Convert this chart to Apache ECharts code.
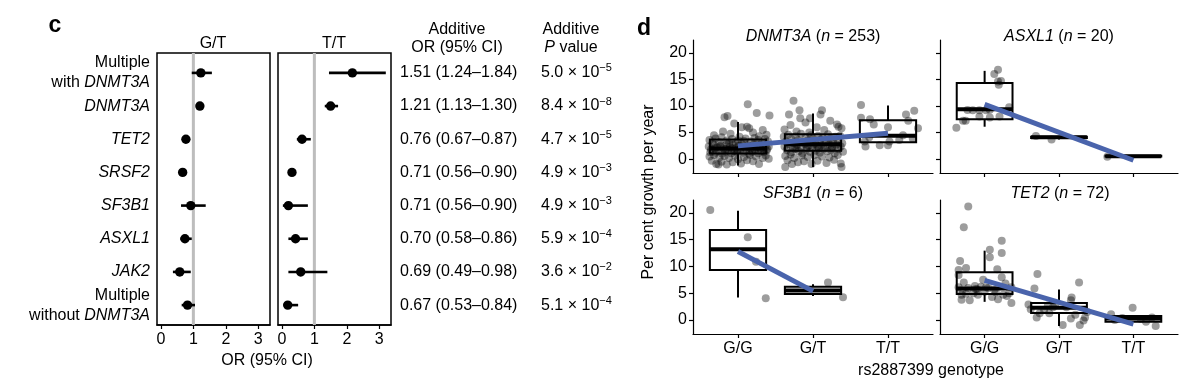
<!DOCTYPE html>
<html><head><meta charset="utf-8">
<script src="https://cdn.jsdelivr.net/npm/echarts@6/dist/echarts.min.js"></script>
<style>html,body{margin:0;padding:0;background:#fff}#c{width:1200px;height:384px}</style>
</head><body><div id="c"></div>
<script>
// ---------------- Panel c data ----------------
const rowLabels = ['Multiple with DNMT3A', 'DNMT3A', 'TET2', 'SRSF2', 'SF3B1', 'ASXL1', 'JAK2', 'Multiple without DNMT3A'];
const gtEst  = [1.23, 1.20, 0.77, 0.67, 0.92, 0.74, 0.58, 0.82];
const gtLow  = [0.95, 1.12, 0.70, 0.60, 0.62, 0.60, 0.37, 0.64];
const gtHigh = [1.57, 1.28, 0.84, 0.74, 1.38, 0.95, 0.92, 1.05];
const ttEst  = [2.17, 1.50, 0.62, 0.31, 0.20, 0.42, 0.58, 0.18];
const ttLow  = [1.45, 1.32, 0.46, 0.26, 0.03, 0.20, 0.20, 0.05];
const ttHigh = [3.20, 1.73, 0.89, 0.36, 0.80, 0.80, 1.40, 0.50];
const orLabels = ['1.51 (1.24\u20131.84)', '1.21 (1.13\u20131.30)', '0.76 (0.67\u20130.87)', '0.71 (0.56\u20130.90)',
                  '0.71 (0.56\u20130.90)', '0.70 (0.58\u20130.86)', '0.69 (0.49\u20130.98)', '0.67 (0.53\u20130.84)'];
const pMantissa = ['5.0', '8.4', '4.7', '4.9', '4.9', '5.9', '3.6', '5.1'];
const pExponent = ['\u22125', '\u22128', '\u22125', '\u22123', '\u22123', '\u22124', '\u22122', '\u22124'];
const orTicks = [0, 1, 2, 3];
const orReference = 1;
const forestPanels = ['G/T', 'T/T'];

// ---------------- Panel d data ----------------
const genotypes = ['G/G', 'G/T', 'T/T'];
const growthTicks = [0, 5, 10, 15, 20];
const geneNames = ['DNMT3A', 'ASXL1', 'SF3B1', 'TET2'];
const geneN = [253, 20, 6, 72];

// box stats: [genotype position, lower whisker, q1, median, q3, upper whisker]
const dnmt3aBox = [[1, -1.2, 1.07, 2.0, 3.7, 7.0], [2, -1.45, 1.6, 2.8, 4.7, 8.6], [3, 3.2, 3.2, 4.4, 7.3, 10.1]];
const asxl1Box  = [[1, 6.1, 7.5, 9.4, 14.3, 16.6], [2, 3.7, 4.0, 4.1, 4.2, 4.35], [3, 0.45, 0.5, 0.55, 0.65, 0.7]];
const sf3b1Box  = [[1, 4.2, 9.35, 13.2, 16.8, 20.4], [2, 4.5, 4.85, 5.5, 6.2, 6.7]];
const tet2Box   = [[1, 3.4, 4.85, 5.9, 8.9, 12.95], [2, -1.1, 1.3, 2.3, 3.2, 5.7], [3, -0.3, -0.3, 0.3, 0.75, 0.75]];

// linear fits: [genotype position, growth]
const dnmt3aFit = [[1, 2.5], [3, 4.85]];
const asxl1Fit  = [[1, 10.3], [3, -0.2]];
const sf3b1Fit  = [[1, 12.8], [2, 5.4]];
const tet2Fit   = [[1, 7.4], [3, -0.75]];

// jittered observations: [jittered genotype position, growth]
const dnmt3aPoints = [
 [1.13,10.3],[1.25,8.7],[1.42,8.2],[0.82,7.9],[0.86,8.1],[0.95,6.7],[1.12,6.1],[1.15,5.8],[1.33,5.5],[0.80,5.2],[1.05,6.0],[1.20,5.0],[0.68,4.5],[1.38,4.6],[0.90,4.8],[1.28,4.3],
 [0.62,3.6],[0.70,3.9],[0.75,3.2],[0.78,4.1],[0.85,3.5],[0.92,3.8],[0.97,3.1],[1.02,4.2],[1.08,3.4],[1.10,3.9],[1.17,3.3],[1.22,4.0],[1.27,3.6],[1.31,3.0],[1.36,3.8],[1.40,3.3],[0.66,3.0],[0.88,3.0],[1.00,3.5],
 [0.61,2.4],[0.64,1.8],[0.67,2.8],[0.70,1.2],[0.72,2.2],[0.74,1.6],[0.77,2.6],[0.79,1.0],[0.81,2.0],[0.83,1.4],[0.85,2.9],[0.87,1.7],[0.89,2.3],[0.91,1.1],[0.93,2.7],[0.95,1.5],[0.97,2.1],[0.99,1.3],[1.01,2.5],[1.03,1.8],[1.05,2.9],[1.07,1.2],[1.09,2.2],[1.11,1.6],[1.13,2.6],[1.15,1.0],[1.17,2.0],[1.19,1.4],[1.21,2.8],[1.23,1.7],[1.25,2.3],[1.27,1.1],[1.29,2.7],[1.31,1.5],[1.33,2.1],[1.35,1.3],[1.37,2.5],[1.39,1.9],[1.41,2.4],[0.63,1.3],[0.69,2.0],[0.76,2.4],[0.84,1.9],[0.92,2.0],[1.00,1.7],[1.06,2.4],[1.14,2.2],[1.22,1.9],[1.30,2.0],[1.38,1.6],
 [0.62,0.5],[0.65,-0.3],[0.68,0.8],[0.71,-0.9],[0.75,0.3],[0.78,-0.5],[0.82,0.6],[0.85,-1.0],[0.88,0.2],[0.93,-0.6],[0.96,0.7],[1.00,0.0],[1.04,-0.8],[1.08,0.4],[1.12,-0.2],[1.16,0.8],[1.20,-0.4],[1.24,0.5],[1.28,-0.9],[1.33,0.2],[1.37,0.7],[1.41,0.1],[0.74,-1.0],
 [1.74,11.0],[1.82,9.2],[2.12,9.2],[2.10,8.4],[1.68,8.4],[1.83,7.7],[1.96,7.7],[2.23,7.2],[2.32,6.5],[2.34,6.1],[1.70,6.4],[1.90,6.9],[2.05,6.0],[1.62,5.6],[1.78,5.2],[2.15,5.5],[2.38,5.8],[1.95,5.0],
 [1.61,4.2],[1.64,3.3],[1.67,4.6],[1.71,3.8],[1.74,3.1],[1.77,4.3],[1.80,3.6],[1.84,4.8],[1.87,3.2],[1.90,4.1],[1.93,3.5],[1.97,4.5],[2.00,3.9],[2.03,3.0],[2.07,4.4],[2.10,3.7],[2.13,4.0],[2.17,3.3],[2.20,4.7],[2.23,3.8],[2.27,3.1],[2.30,4.2],[2.33,3.5],[2.36,4.4],[2.39,3.0],
 [1.62,2.4],[1.65,1.7],[1.68,2.8],[1.71,1.3],[1.73,2.2],[1.76,1.9],[1.79,2.7],[1.81,1.5],[1.84,2.3],[1.86,1.1],[1.89,2.9],[1.91,1.8],[1.94,2.5],[1.96,1.4],[1.99,2.1],[2.01,2.8],[2.04,1.6],[2.06,2.4],[2.09,1.2],[2.11,2.6],[2.14,1.9],[2.16,2.2],[2.19,1.5],[2.21,2.9],[2.24,1.7],[2.26,2.3],[2.29,1.1],[2.31,2.7],[2.34,1.9],[2.37,2.4],[2.40,1.4],[1.78,2.0],[1.92,2.2],[2.08,2.0],[2.25,2.1],
 [1.63,0.6],[1.66,-0.2],[1.70,0.9],[1.75,0.2],[1.80,-0.6],[1.85,0.7],[1.88,-0.4],[1.93,0.4],[1.98,-0.9],[2.02,0.8],[2.06,-0.3],[2.12,0.5],[2.18,-0.7],[2.22,0.3],[2.28,-0.1],[2.33,0.8],[2.37,-0.8],[1.63,-1.45],[2.38,-1.45],[1.72,-0.9],
 [2.64,10.2],[2.64,7.8],[2.76,7.5],[2.81,6.5],[3.00,6.0],[3.24,8.4],[3.35,9.1],[3.27,7.2],[3.40,5.8],[2.69,3.3],[2.70,2.4],[2.89,2.6],[3.00,2.6],[3.02,3.3],[3.33,3.9],[2.75,4.1],[3.15,3.6],[3.20,4.5]
];
const asxl1Points = [
 [0.62,5.9],[0.71,7.2],[0.745,7.2],[0.77,9.25],[0.93,8.0],[0.93,9.2],[1.07,7.85],[1.07,9.3],[1.13,16.0],[1.18,16.8],[1.18,14.6],[1.19,14.0],[1.22,14.7],[1.20,8.0],[1.33,9.75],[1.02,9.2],[0.84,9.2],
 [1.69,4.35],[1.90,3.7],
 [2.65,0.45]
];
const sf3b1Points = [
 [0.63,20.55],[1.13,15.45],[1.24,10.9],[1.37,4.05],
 [2.20,7.0],[2.40,4.25]
];
const tet2Points = [
 [0.78,21.2],[0.72,17.3],[1.23,14.8],[1.23,12.5],[1.07,13.1],[1.07,11.7],[0.67,11.0],[1.17,9.5],[0.75,9.7],[0.65,9.35],[0.65,8.4],[1.23,8.0],[0.72,7.0],[0.65,6.1],[0.87,6.35],[0.90,5.7],[1.36,6.1],[1.00,5.3],[1.13,5.6],[0.69,4.7],[0.80,3.7],[0.69,3.8],[0.91,4.7],[1.18,3.9],[1.25,4.7],[1.36,3.2],[0.70,5.5],[0.78,6.0],[0.95,6.2],[1.05,6.0],[1.15,5.2],[1.30,4.5],[0.85,5.0],[1.10,4.3],[0.75,4.9],[1.33,5.0],[0.98,7.5],[1.28,6.8],[1.02,6.1],[0.88,5.8],
 [1.71,8.6],[2.27,7.0],[1.67,5.9],[1.59,2.9],[1.74,1.25],[1.87,1.25],[2.05,-0.9],[2.16,0.3],[2.33,-0.1],[2.35,0.5],[2.16,3.7],[2.17,4.2],[2.10,2.4],[1.92,2.4],[1.80,1.9],[1.62,2.0],[2.22,1.0],[1.95,3.0],[2.38,1.5],[1.70,0.5],[2.28,-0.9],[1.85,2.7],
 [2.70,1.1],[2.99,2.3],[3.17,-0.3],[3.30,-1.1],[2.85,0.4],[3.10,0.2],[3.25,0.5],[2.75,0.0]
];

// ---------------- Rendering ----------------
const FONT = '"Liberation Sans", Arial, Helvetica, sans-serif';
const BLACK = '#000';
const rowIdx = rowLabels.map((_, i) => i);

function rowRich(v) {
  const s = rowLabels[Math.round(v)];
  if (!s) return '';
  const m = s.match(/^Multiple (with|without) (.+)$/);
  if (m) return '{n|Multiple}\n{n|' + m[1] + ' }{i|' + m[2] + '}';
  return '{i|' + s + '}';
}

function forestRender(params, api) {
  const row = api.value(0);
  const c = api.coord([api.value(1), row]);
  const l = api.coord([api.value(2), row]);
  const h = api.coord([api.value(3), row]);
  return {type: 'group', children: [
    {type: 'line', shape: {x1: l[0], y1: l[1], x2: h[0], y2: h[1]}, style: {stroke: BLACK, lineWidth: 2.6}},
    {type: 'circle', shape: {cx: c[0], cy: c[1], r: 4.7}, style: {fill: BLACK}}
  ]};
}

const BOX_HALF = 0.375;
function boxRender(params, api) {
  const x = api.value(0);
  const lo = api.value(1), q1 = api.value(2), md = api.value(3), q3 = api.value(4), hi = api.value(5);
  const tl = api.coord([x - BOX_HALF, q3]), br = api.coord([x + BOX_HALF, q1]);
  const mL = api.coord([x - BOX_HALF, md]), mR = api.coord([x + BOX_HALF, md]);
  const wT = api.coord([x, hi]), w3 = api.coord([x, q3]), w1 = api.coord([x, q1]), wB = api.coord([x, lo]);
  const st = {stroke: BLACK, lineWidth: 2};
  return {type: 'group', children: [
    {type: 'line', shape: {x1: wT[0], y1: wT[1], x2: w3[0], y2: w3[1]}, style: st},
    {type: 'line', shape: {x1: w1[0], y1: w1[1], x2: wB[0], y2: wB[1]}, style: st},
    {type: 'rect', shape: {x: tl[0], y: tl[1], width: br[0] - tl[0], height: br[1] - tl[1]}, style: {fill: '#fff', stroke: BLACK, lineWidth: 2}},
    {type: 'line', shape: {x1: mL[0], y1: mL[1], x2: mR[0], y2: mR[1]}, style: {stroke: BLACK, lineWidth: 4}}
  ]};
}

const grids = [
  {left: 157, top: 53, width: 113, height: 272, show: true, borderColor: BLACK, borderWidth: 1.5, backgroundColor: 'transparent'},
  {left: 278, top: 53, width: 113, height: 272, show: true, borderColor: BLACK, borderWidth: 1.5, backgroundColor: 'transparent'},
  {left: 693, top: 40, width: 240, height: 133},
  {left: 940, top: 40, width: 238, height: 133},
  {left: 693, top: 200, width: 240, height: 134},
  {left: 940, top: 200, width: 238, height: 134}
];

const labelBase = {fontFamily: FONT, fontSize: 16, color: BLACK};

function forestX(gi) {
  return {type: 'value', gridIndex: gi, min: -0.12, max: 3.36, splitLine: {show: false},
    axisLine: {show: true, onZero: false, lineStyle: {color: BLACK, width: 1.5}},
    axisTick: {show: true, length: 4, customValues: orTicks, lineStyle: {color: BLACK, width: 1.2}},
    axisLabel: Object.assign({customValues: orTicks, margin: 7}, labelBase)};
}
function forestY(gi, labelCfg) {
  return Object.assign({type: 'value', gridIndex: gi, min: -0.6, max: 7.6, inverse: true,
    axisLine: {show: false}, axisTick: {show: false}, splitLine: {show: false}}, labelCfg);
}
function growthX(gi, showLabels) {
  return {type: 'value', gridIndex: gi, min: 0.4, max: 3.6, splitLine: {show: false},
    axisLine: {onZero: false, lineStyle: {color: BLACK, width: 1.2}},
    axisTick: {customValues: [1, 2, 3], length: 4, lineStyle: {color: BLACK, width: 1.2}},
    axisLabel: Object.assign({show: showLabels, customValues: [1, 2, 3], margin: 7,
      formatter: v => genotypes[Math.round(v) - 1] || ''}, labelBase)};
}
function growthY(gi, showLabels) {
  return {type: 'value', gridIndex: gi, min: -2.6, max: 22.4, splitLine: {show: false},
    axisLine: {onZero: false, lineStyle: {color: BLACK, width: 1.2}},
    axisTick: {customValues: growthTicks, length: 4, lineStyle: {color: BLACK, width: 1.2}},
    axisLabel: Object.assign({show: showLabels, customValues: growthTicks, margin: 6}, labelBase)};
}

const xAxes = [forestX(0), forestX(1), growthX(2, false), growthX(3, false), growthX(4, true), growthX(5, true)];
const yAxes = [
  forestY(0, {axisLabel: {customValues: rowIdx, margin: 7, formatter: rowRich,
    rich: {n: Object.assign({lineHeight: 20}, labelBase), i: Object.assign({lineHeight: 20, fontStyle: 'italic'}, labelBase)}}}),
  forestY(1, {axisLabel: {show: false}}),
  forestY(1, {position: 'right', axisLabel: Object.assign({customValues: rowIdx, margin: 9,
    formatter: v => orLabels[Math.round(v)] || ''}, labelBase)}),
  forestY(1, {position: 'right', offset: 141, axisLabel: {customValues: rowIdx, margin: 9,
    formatter: v => { const i = Math.round(v); return pMantissa[i] ? '{m|' + pMantissa[i] + ' \u00d7 10}{s|' + pExponent[i] + '}' : ''; },
    rich: {m: Object.assign({lineHeight: 20}, labelBase), s: {fontFamily: FONT, fontSize: 11, color: BLACK, lineHeight: 12, verticalAlign: 'top'}}}}),
  growthY(2, true), growthY(3, false), growthY(4, true), growthY(5, false)
];

const series = [];
// panel c
[[gtEst, gtLow, gtHigh], [ttEst, ttLow, ttHigh]].forEach((arr, gi) => {
  const yi = gi;
  series.push({type: 'line', xAxisIndex: gi, yAxisIndex: yi, data: [[orReference, -0.6], [orReference, 7.6]],
    symbol: 'none', silent: true, z: 1, lineStyle: {color: '#bdbdbd', width: 3}});
  series.push({type: 'custom', xAxisIndex: gi, yAxisIndex: yi, renderItem: forestRender, z: 3,
    encode: {x: [1, 2, 3], y: 0},
    data: arr[0].map((e, i) => [i, e, arr[1][i], arr[2][i]])});
});
// panel d
const dPanels = [
  {box: dnmt3aBox, pts: dnmt3aPoints, fit: dnmt3aFit},
  {box: asxl1Box, pts: asxl1Points, fit: asxl1Fit},
  {box: sf3b1Box, pts: sf3b1Points, fit: sf3b1Fit},
  {box: tet2Box, pts: tet2Points, fit: tet2Fit}
];
dPanels.forEach((p, k) => {
  const ax = 2 + k, ay = 4 + k;
  series.push({type: 'custom', xAxisIndex: ax, yAxisIndex: ay, renderItem: boxRender, z: 2,
    encode: {x: 0, y: [1, 2, 3, 4, 5]}, data: p.box});
  series.push({type: 'scatter', xAxisIndex: ax, yAxisIndex: ay, data: p.pts, symbolSize: 8, z: 3,
    itemStyle: {color: 'rgba(0,0,0,0.48)'}, silent: true});
  series.push({type: 'line', xAxisIndex: ax, yAxisIndex: ay, data: p.fit, symbol: 'none', z: 4, silent: true,
    lineStyle: {color: '#4a64ac', width: 5}});
});

function txt(x, y, text, extra) {
  return {type: 'text', x: x, y: y, silent: true, style: Object.assign({
    text: text, font: '16px ' + FONT, fill: BLACK,
    align: 'center', verticalAlign: 'middle', textAlign: 'center', textVerticalAlign: 'middle'}, extra || {})};
}
const richIt = {
  n: {fontFamily: FONT, fontSize: 16, fill: BLACK},
  i: {fontFamily: FONT, fontSize: 16, fill: BLACK, fontStyle: 'italic'}
};
const panelTitlePos = [[813, 36.5], [1059, 36.5], [813, 193.5], [1060, 194]];
const graphics = [
  txt(55, 26, 'c', {font: 'bold 23px ' + FONT}),
  txt(644, 28.5, 'd', {font: 'bold 23px ' + FONT}),
  txt(213, 43.5, forestPanels[0]),
  txt(334, 43.5, forestPanels[1]),
  txt(457, 29.5, 'Additive'),
  txt(457, 48, 'OR (95% CI)'),
  txt(571, 29.5, 'Additive'),
  txt(571, 48, '{i|P}{n| value}', {rich: richIt}),
  txt(267, 360.5, 'OR (95% CI)'),
  txt(931, 371, 'rs2887399 genotype'),
  Object.assign(txt(649, 192, 'Per cent growth per year'), {rotation: Math.PI / 2})
];
geneNames.forEach((g, k) => {
  graphics.push(txt(panelTitlePos[k][0], panelTitlePos[k][1], '{i|' + g + '}{n| (}{i|n}{n| = ' + geneN[k] + ')}', {rich: richIt}));
});

const chart = echarts.init(document.getElementById('c'), null, {renderer: 'canvas'});
chart.setOption({
  animation: false,
  backgroundColor: '#fff',
  textStyle: {fontFamily: FONT},
  grid: grids,
  xAxis: xAxes,
  yAxis: yAxes,
  series: series,
  graphic: {elements: graphics}
});
</script></body></html>
